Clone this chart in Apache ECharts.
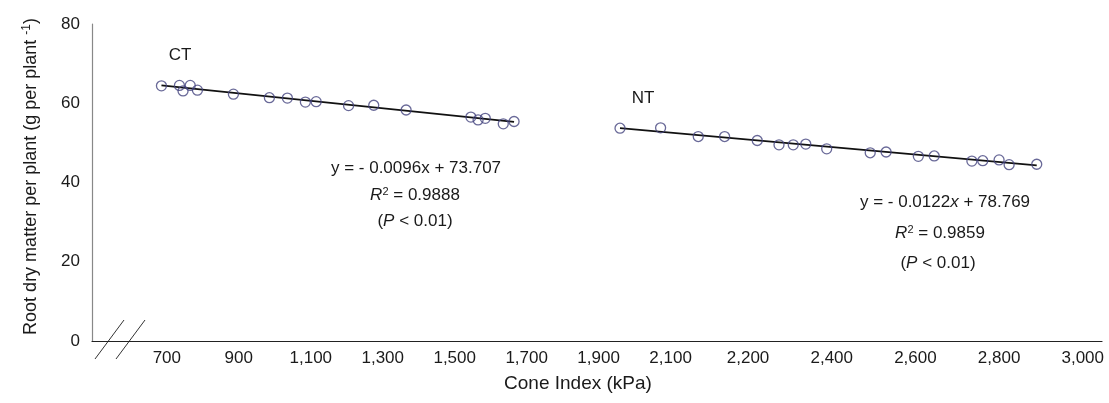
<!DOCTYPE html>
<html><head><meta charset="utf-8">
<script src="https://cdn.jsdelivr.net/npm/echarts@6/dist/echarts.min.js"></script>
<style>html,body{margin:0;padding:0;background:#fff}#c{width:1109px;height:403px}</style>
</head><body><div id="c"></div>
<script>
// CT (conventional tillage) points, read against the left part of the axis (700 - 2,100)
const ctX = [685, 735, 745, 765, 785, 885, 985, 1035, 1085, 1115, 1205, 1275, 1365, 1545, 1565, 1585, 1635, 1665];
const ctY = [64.4, 64.5, 63.1, 64.5, 63.3, 62.3, 61.4, 61.3, 60.3, 60.4, 59.4, 59.5, 58.3, 56.5, 55.8, 56.2, 54.8, 55.4];
// NT (no tillage) points, read against the right part of the axis (2,200 - 3,000)
const ntX = [1894, 1991, 2081, 2144, 2222, 2274, 2308, 2338, 2388, 2492, 2530, 2607, 2645, 2735, 2761, 2800, 2824, 2890];
const ntY = [53.7, 53.8, 51.6, 51.6, 50.6, 49.5, 49.5, 49.7, 48.5, 47.5, 47.7, 46.6, 46.7, 45.4, 45.5, 45.7, 44.5, 44.6];
// fitted lines, end points
const ctTrendX = [685, 1665];
const ctTrendY = [64.5, 55.3];
const ntTrendX = [1894, 2890];
const ntTrendY = [53.7, 44.3];
// tick labels
const ctTicks = [700, 900, 1100, 1300, 1500, 1700, 1900, 2100];
const ntTicks = [2200, 2400, 2600, 2800, 3000];
const yTicks = [0, 20, 40, 60, 80];
// annotation texts
const ctEq = ['y = - 0.0096x + 73.707', '0.9888'];
const ntEq = ['y = - 0.0122{i|x} + 78.769', '0.9859'];

const FONT = '"Liberation Sans", Arial, sans-serif';
const TXT = '#1a1a1a';
const zip = (xs, ys) => xs.map((x, i) => [x, ys[i]]);
const fmt = v => Number(v).toLocaleString('en-US');

const chart = echarts.init(document.getElementById('c'), null, {renderer: 'canvas'});
function txt(x, y, text) {
  return {type: 'text', x: x, y: y, style: {
    text: text, fontSize: 17, fontFamily: FONT, fill: TXT, align: 'center', verticalAlign: 'middle',
    rich: {
      i: {fontStyle: 'italic', fontSize: 17, fontFamily: FONT, fill: TXT},
      sup: {fontSize: 11, fontFamily: FONT, fill: TXT, verticalAlign: 'top', lineHeight: 12, padding: [0, 0, 8, 0]}
    }
  }};
}

chart.setOption({
  animation: false,
  backgroundColor: '#fff',
  textStyle: {fontFamily: FONT},
  grid: {left: 92, right: 7, top: 24, bottom: 62, containLabel: false},
  xAxis: [{
    type: 'value', position: 'bottom', min: 492, max: 3299,
    axisLine: {show: true, lineStyle: {color: '#222', width: 1.2}},
    axisTick: {show: false}, splitLine: {show: false},
    axisLabel: {customValues: ctTicks, formatter: fmt, fontSize: 17, color: TXT, margin: 9, fontFamily: FONT},
    name: 'Cone Index (kPa)', nameLocation: 'middle', nameGap: 33,
    nameTextStyle: {fontSize: 19, color: TXT, fontFamily: FONT, padding: [0, 38, 0, 0]}
  }, {
    type: 'value', position: 'bottom', min: 632, max: 3046,
    axisLine: {show: false}, axisTick: {show: false}, splitLine: {show: false},
    axisLabel: {customValues: ntTicks, formatter: fmt, fontSize: 17, color: TXT, margin: 9, fontFamily: FONT}
  }],
  yAxis: {
    type: 'value', min: 0, max: 80, interval: 20,
    axisLine: {show: true, lineStyle: {color: '#888', width: 1.2}},
    axisTick: {show: false}, splitLine: {show: false},
    axisLabel: {customValues: yTicks, fontSize: 17, color: TXT, margin: 12, fontFamily: FONT},
    name: 'Root dry matter per plant (g per plant {sup|-1})', nameLocation: 'middle', nameRotate: 90, nameGap: 51,
    nameTextStyle: {fontSize: 18, color: TXT, fontFamily: FONT, lineHeight: 20, padding: [0, 0, 0, 12],
      rich: {sup: {fontSize: 12, color: TXT, fontFamily: FONT, verticalAlign: 'top', lineHeight: 12}}}
  },
  series: [
    {type: 'line', xAxisIndex: 0, data: zip(ctTrendX, ctTrendY), symbol: 'none', lineStyle: {color: '#111', width: 1.8}, z: 2},
    {type: 'line', xAxisIndex: 1, data: zip(ntTrendX, ntTrendY), symbol: 'none', lineStyle: {color: '#111', width: 1.8}, z: 2},
    {type: 'scatter', name: 'CT', xAxisIndex: 0, data: zip(ctX, ctY), symbol: 'circle', symbolSize: 10,
     itemStyle: {color: 'rgba(0,0,0,0)', borderColor: '#44447e', borderWidth: 1.3}, z: 3},
    {type: 'scatter', name: 'NT', xAxisIndex: 1, data: zip(ntX, ntY), symbol: 'circle', symbolSize: 10,
     itemStyle: {color: 'rgba(0,0,0,0)', borderColor: '#44447e', borderWidth: 1.3}, z: 3}
  ],
  graphic: [
    txt(180, 55, 'CT'),
    txt(643, 98, 'NT'),
    txt(416, 168, ctEq[0]),
    txt(415, 195, '{i|R}{sup|2} = ' + ctEq[1]),
    txt(415, 221, '({i|P} < 0.01)'),
    txt(945, 202, ntEq[0]),
    txt(940, 233, '{i|R}{sup|2} = ' + ntEq[1]),
    txt(938, 263, '({i|P} < 0.01)'),
    {type: 'line', shape: {x1: 95, y1: 359, x2: 124, y2: 320}, style: {stroke: '#333', lineWidth: 1}},
    {type: 'line', shape: {x1: 116, y1: 359, x2: 145, y2: 320}, style: {stroke: '#333', lineWidth: 1}}
  ]
});
</script>
</body></html>
